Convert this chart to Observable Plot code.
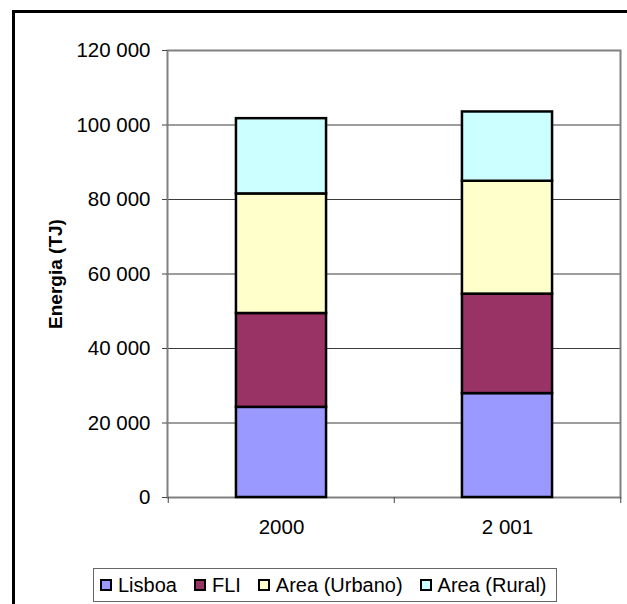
<!DOCTYPE html>
<html>
<head>
<meta charset="utf-8">
<script src="https://cdn.jsdelivr.net/npm/d3@7"></script>
<script src="https://cdn.jsdelivr.net/npm/@observablehq/plot@0.6"></script>
<style>
  html, body { margin: 0; padding: 0; background: #fff; }
  #wrap { position: relative; width: 627px; height: 604px; overflow: hidden; font-family: "Liberation Sans", Arial, sans-serif; }
  #outer { position: absolute; left: 12px; top: 10px; width: 700px; height: 700px; border: 3px solid #000; box-sizing: border-box; }
  #chart { position: absolute; left: 0; top: 0; }
  #legend { position: absolute; left: 93px; top: 568px; width: 464px; height: 34px; border: 1px solid #666; box-sizing: border-box; display: flex; align-items: center; padding-left: 6px; font-size: 20px; color: #000; background: #fff; white-space: nowrap; }
  .item { display: flex; align-items: center; margin-right: 17px; flex-shrink: 0; white-space: nowrap; }
  .sw { width: 12px; height: 12px; border: 2px solid #000; box-sizing: border-box; margin-right: 6px; flex-shrink: 0; }
</style>
</head>
<body>
<div id="wrap">
  <div id="outer"></div>
  <div id="chart"></div>
  <div id="legend"></div>
</div>
<script>
const categories = ["2000", "2 001"];
const series = ["Lisboa", "FLI", "Area (Urbano)", "Area (Rural)"];
const lisboa = [24200, 27900];
const fli = [25200, 26700];
const urbano = [32100, 30300];
const rural = [20200, 18600];
const colors = ["#9999FF", "#993366", "#FFFFCC", "#CCFFFF"];
const yTicks = [0, 20000, 40000, 60000, 80000, 100000, 120000];
const yLabel = "Energia (TJ)";

const valuesBySeries = [lisboa, fli, urbano, rural];
const rows = [];
categories.forEach((c, i) => {
  series.forEach((s, j) => rows.push({year: c, series: s, value: valuesBySeries[j][i]}));
});

const W = 627, H = 560;
const mL = 167, mR = 7, mT = 50, mB = 63;
const bw = (W - mL - mR) / categories.length;
const fmt = d => d3.format(",")(d).replace(/,/g, " ");
const font = "Liberation Sans, Arial, sans-serif";

const plot = Plot.plot({
  width: W,
  height: H,
  marginLeft: mL,
  marginRight: mR,
  marginTop: mT,
  marginBottom: mB,
  style: {fontFamily: font, fontSize: "20px", color: "#000", background: "transparent"},
  x: {type: "band", domain: categories, paddingInner: 0, paddingOuter: 0, label: null},
  y: {domain: [0, 120000], label: null},
  color: {domain: series, range: colors},
  marks: [
    Plot.gridY(yTicks, {stroke: "#3a3a3a", strokeOpacity: 1, strokeWidth: 1}),
    Plot.frame({stroke: "#808080", strokeWidth: 2}),
    Plot.barY(rows, {
      x: "year", y: "value", fill: "series",
      stroke: "#000", strokeWidth: 2.5,
      insetLeft: bw * 0.3, insetRight: bw * 0.3
    }),
    Plot.axisY(yTicks, {tickFormat: fmt, tickSize: 5, tickPadding: 12, fontSize: 20.5, stroke: "#444", label: null}),
    Plot.axisX({tickSize: 0, tickPadding: 22, fontSize: 20.5, label: null}),
    Plot.axisX(categories, {tickSize: 6, text: null, dx: -bw / 2, stroke: "#444", label: null}),
    Plot.axisX(categories.slice(-1), {tickSize: 6, text: null, dx: bw / 2, stroke: "#444", label: null}),
    Plot.text([yLabel], {frameAnchor: "left", textAnchor: "middle", rotate: -90, dx: -112, fontWeight: "bold", fontSize: 19, fill: "#000"})
  ]
});
document.getElementById("chart").appendChild(plot);

const legend = document.getElementById("legend");
series.forEach((s, i) => {
  const item = document.createElement("div");
  item.className = "item";
  const sw = document.createElement("div");
  sw.className = "sw";
  sw.style.background = colors[i];
  const t = document.createElement("span");
  t.textContent = s;
  item.appendChild(sw);
  item.appendChild(t);
  legend.appendChild(item);
});
</script>
</body>
</html>
